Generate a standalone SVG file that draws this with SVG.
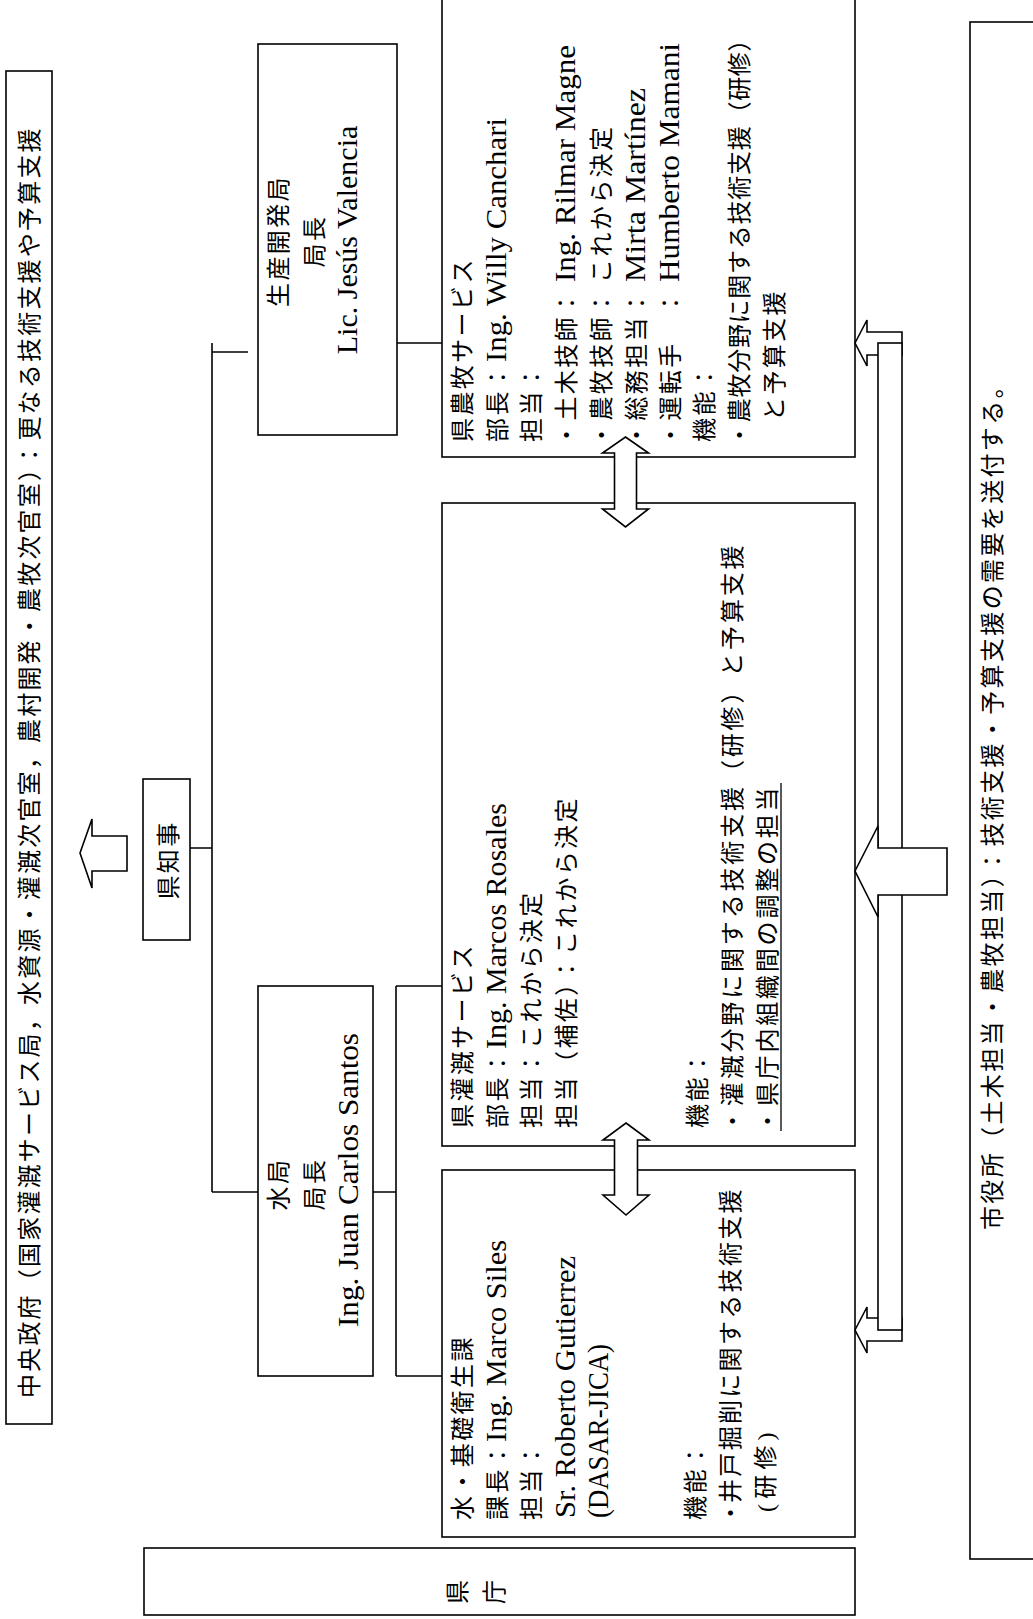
<svg xmlns="http://www.w3.org/2000/svg" width="1033" height="1619" viewBox="0 0 1033 1619">
<style>
.bx{fill:#fff;stroke:#000;stroke-width:1.6}
.ln{fill:none;stroke:#000;stroke-width:1.6}
.ar{fill:#fff;stroke:#000;stroke-width:1.6;stroke-linejoin:miter}
.j{font-family:"Liberation Serif","Noto Sans CJK JP",sans-serif;font-size:24px;letter-spacing:2.4px;fill:#000}
.l{font-family:"Liberation Serif",serif;font-size:30px;fill:#000}
.m{text-anchor:middle}
</style>
<rect width="1033" height="1619" fill="#fff"/>

<g id="central-gov">
<rect class="bx" x="6" y="71" width="46" height="1353"/>
<text class="j" transform="translate(38,1398) rotate(-90)" textLength="1272" lengthAdjust="spacing">中央政府（国家灌漑サービス局，水資源・灌漑次官室，農村開発・農牧次官室）：更なる技術支援や予算支援</text>
</g>

<g id="governor">
<rect class="bx" x="143" y="779" width="47" height="161"/>
<text class="j m" transform="translate(177,860) rotate(-90)">県知事</text>
</g>

<g id="production-dept">
<rect class="bx" x="258" y="44" width="139" height="391"/>
<text class="j m" transform="translate(287,241) rotate(-90)">生産開発局</text>
<text class="j m" transform="translate(323,241) rotate(-90)">局長</text>
<text class="l m" transform="translate(357,240) rotate(-90)">Lic. Jesús Valencia</text>
</g>

<g id="water-dept">
<rect class="bx" x="258" y="986" width="115" height="390"/>
<text class="j m" transform="translate(287,1184) rotate(-90)">水局</text>
<text class="j m" transform="translate(323,1184) rotate(-90)">局長</text>
<text class="l m" transform="translate(358,1180) rotate(-90)" textLength="294" lengthAdjust="spacingAndGlyphs">Ing. Juan Carlos Santos</text>
</g>

<g id="agri-service">
<rect class="bx" x="442" y="-5" width="413" height="462"/>
<text class="j" transform="translate(471,442) rotate(-90)">県農牧サービス</text>
<text class="j" transform="translate(506,442) rotate(-90)">部長：</text>
<text class="l" transform="translate(506,362) rotate(-90)" textLength="244" lengthAdjust="spacingAndGlyphs">Ing. Willy Canchari</text>
<text class="j" transform="translate(540,442) rotate(-90)">担当：</text>
<text class="j" transform="translate(575,447) rotate(-90)">・土木技師：</text>
<text class="l" transform="translate(575,282) rotate(-90)" textLength="237" lengthAdjust="spacingAndGlyphs">Ing. Rilmar Magne</text>
<text class="j" transform="translate(610,447) rotate(-90)">・農牧技師：</text>
<text class="j" transform="translate(610,283) rotate(-90)">これから決定</text>
<text class="j" transform="translate(645,447) rotate(-90)">・総務担当：</text>
<text class="l" transform="translate(645,282) rotate(-90)" textLength="194" lengthAdjust="spacingAndGlyphs">Mirta Martínez</text>
<text class="j" transform="translate(679,447) rotate(-90)">・運転手　：</text>
<text class="l" transform="translate(679,282) rotate(-90)" textLength="239" lengthAdjust="spacingAndGlyphs">Humberto Mamani</text>
<text class="j" transform="translate(713,442) rotate(-90)">機能：</text>
<text class="j" transform="translate(748,447) rotate(-90)" textLength="422" lengthAdjust="spacing">・農牧分野に関する技術支援（研修）</text>
<text class="j" transform="translate(783,421) rotate(-90)">と予算支援</text>
</g>

<g id="irrigation-service">
<rect class="bx" x="442" y="503" width="413" height="643"/>
<text class="j" transform="translate(471,1128) rotate(-90)">県灌漑サービス</text>
<text class="j" transform="translate(506,1128) rotate(-90)">部長：</text>
<text class="l" transform="translate(506,1049) rotate(-90)" textLength="246" lengthAdjust="spacingAndGlyphs">Ing. Marcos Rosales</text>
<text class="j" transform="translate(540,1128) rotate(-90)">担当：これから決定</text>
<text class="j" transform="translate(575,1128) rotate(-90)" textLength="332" lengthAdjust="spacing">担当（補佐）：これから決定</text>
<text class="j" transform="translate(706,1128) rotate(-90)">機能：</text>
<text class="j" transform="translate(741,1133) rotate(-90)" textLength="590" lengthAdjust="spacing">・灌漑分野に関する技術支援（研修）と予算支援</text>
<text class="j" transform="translate(776,1133) rotate(-90)" textLength="348" lengthAdjust="spacing">・県庁内組織間の調整の担当</text>
<line class="ln" x1="781" y1="1131" x2="781" y2="783" style="stroke-width:1.3"/>
</g>

<g id="water-sanitation">
<rect class="bx" x="442" y="1170" width="413" height="367"/>
<text class="j" transform="translate(471,1520) rotate(-90)">水・基礎衛生課</text>
<text class="j" transform="translate(506,1520) rotate(-90)">課長：</text>
<text class="l" transform="translate(506,1442) rotate(-90)" textLength="202" lengthAdjust="spacingAndGlyphs">Ing. Marco Siles</text>
<text class="j" transform="translate(540,1520) rotate(-90)">担当：</text>
<text class="l" transform="translate(575,1518) rotate(-90)" textLength="262" lengthAdjust="spacingAndGlyphs">Sr. Roberto Gutierrez</text>
<text class="l" transform="translate(608,1518) rotate(-90)" textLength="174" lengthAdjust="spacingAndGlyphs">(DASAR-JICA)</text>
<text class="j" transform="translate(704,1520) rotate(-90)">機能：</text>
<text class="j" transform="translate(739,1525) rotate(-90)">・</text>
<text class="j" transform="translate(739,1503) rotate(-90)" textLength="316" lengthAdjust="spacing">井戸掘削に関する技術支援</text>
<text class="j" transform="translate(774,1512) rotate(-90)" textLength="82" lengthAdjust="spacing">(研修)</text>
</g>

<g id="prefecture">
<rect class="bx" x="144" y="1548" width="711" height="67"/>
<text class="j m" style="letter-spacing:0" transform="translate(466,1592) rotate(-90)">県</text>
<text class="j m" style="letter-spacing:0" transform="translate(503,1592) rotate(-90)">庁</text>
</g>

<g id="municipality">
<rect class="bx" x="970" y="22" width="80" height="1537"/>
<text class="j" transform="translate(1001,1230) rotate(-90)" textLength="858" lengthAdjust="spacing">市役所（土木担当・農牧担当）：技術支援・予算支援の需要を送付する。</text>
</g>

<g id="connectors">
<path class="ln" d="M190,848H212M212,343V1192M212,352H248M212,1192H258M373,1192H396M396,986V1376M396,986H442M396,1376H442M397,343H442"/>
<polygon class="ar" points="80,853 92,819 92,836 127,836 127,871 92,871 92,888"/>
<polygon class="ar" points="625.5,437 648.5,453 636.5,453 636.5,509 648.5,509 625.5,527 602.5,509 614.5,509 614.5,453 602.5,453"/>
<polygon class="ar" points="626,1123 649,1140 637.5,1140 637.5,1195 649,1195 626,1215 603,1195 614.5,1195 614.5,1140 603,1140"/>
<polygon class="ar" points="855,343 867,320 867,332 902,332 902,355 867,355 867,366"/>
<polygon class="ar" points="855,1330 867,1307 867,1318 902,1318 902,1341 867,1341 867,1353"/>
<rect class="ar" x="878" y="343" width="24" height="987"/>
<polygon class="ar" points="855,871 878,826 878,848 947,848 947,895 878,895 878,917"/>
</g>
</svg>
